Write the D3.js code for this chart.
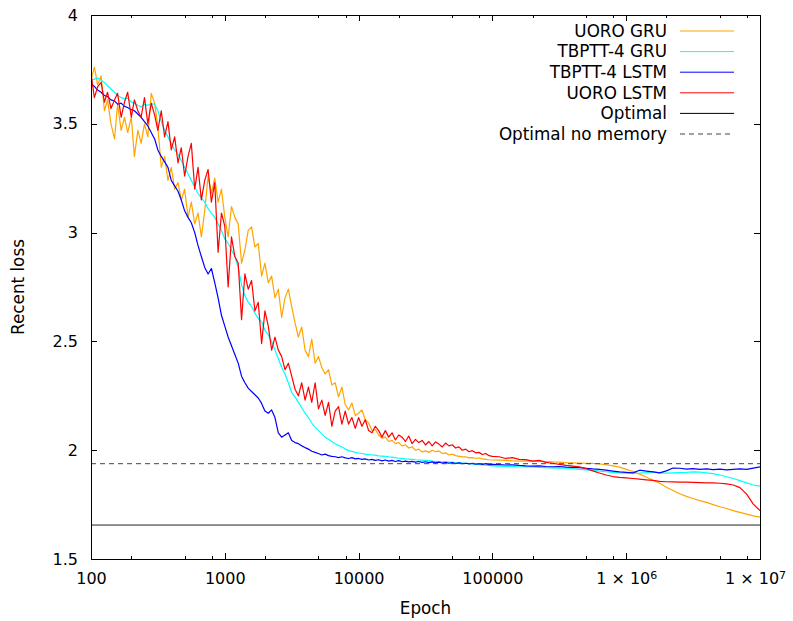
<!DOCTYPE html>
<html>
<head>
<meta charset="utf-8">
<script src="https://cdn.jsdelivr.net/npm/d3@7"></script>
<style>
  body { margin: 0; background: #fff; }
  svg { display: block; font-family: "DejaVu Sans", sans-serif; }
</style>
</head>
<body>
<div id="chart"></div>
<script>
// epochs on a log grid: 40 per decade up to 1e5, 20 per decade after
const epochs = [
  100, 106, 112, 119, 126, 133, 141, 150, 158, 168, 178, 188, 200, 211, 224, 237, 251, 266, 282, 299,
  316, 335, 355, 376, 398, 422, 447, 473, 501, 531, 562, 596, 631, 668, 708, 750, 794, 841, 891, 944,
  1000, 1059, 1122, 1189, 1259, 1334, 1413, 1496, 1585, 1679, 1778, 1884, 1995, 2113, 2239, 2371, 2512, 2661, 2818, 2985,
  3162, 3350, 3548, 3758, 3981, 4217, 4467, 4732, 5012, 5309, 5623, 5957, 6310, 6683, 7079, 7499, 7943, 8414, 8913, 9441,
  10000, 10593, 11220, 11885, 12589, 13335, 14125, 14962, 15849, 16788, 17783, 18836, 19953, 21135, 22387, 23714, 25119, 26607, 28184, 29854,
  31623, 33497, 35481, 37584, 39811, 42170, 44668, 47315, 50119, 53088, 56234, 59566, 63096, 66834, 70795, 74989, 79433, 84140, 89125, 94406,
  100000, 112202, 125893, 141254, 158489, 177828, 199526, 223872, 251189, 281838,
  316228, 354813, 398107, 446684, 501187, 562341, 630957, 707946, 794328, 891251,
  1000000, 1122018, 1258925, 1412538, 1584893, 1778279, 1995262, 2238721, 2511886, 2818383,
  3162278, 3548134, 3981072, 4466836, 5011872, 5623413, 6309573, 7079458, 7943282, 8912509, 10000000
];

const uoroGru = [
  3.70, 3.76, 3.68, 3.72, 3.56, 3.61, 3.50, 3.43, 3.59, 3.47, 3.53, 3.46, 3.53, 3.35, 3.47, 3.41, 3.50, 3.44, 3.64, 3.595,
  3.485, 3.30, 3.35, 3.24, 3.30, 3.20, 3.23, 3.15, 3.20, 3.07, 3.14, 3.04, 3.09, 2.98, 3.10, 3.26, 3.18, 3.25, 3.14, 3.20,
  3.07, 2.98, 3.12, 3.07, 3.04, 2.86, 2.92, 3.01, 3.026, 2.934, 2.95, 2.80, 2.86, 2.77, 2.80, 2.70, 2.74, 2.61, 2.70, 2.74,
  2.66, 2.585, 2.52, 2.566, 2.46, 2.43, 2.51, 2.40, 2.43, 2.38, 2.35, 2.37, 2.30, 2.31, 2.245, 2.29, 2.21, 2.185, 2.217, 2.16,
  2.17, 2.185, 2.14, 2.125, 2.09, 2.095, 2.07, 2.055, 2.06, 2.04, 2.045, 2.03, 2.035, 2.02, 2.025, 2.01, 2.015, 2.0, 2.005, 1.992,
  1.997, 1.99, 2.0, 1.993, 1.997, 1.985, 1.988, 1.978, 1.982, 1.975, 1.972, 1.969, 1.97, 1.965, 1.966, 1.963, 1.964, 1.96, 1.958, 1.956,
  1.955, 1.954, 1.953, 1.951, 1.95, 1.951, 1.95, 1.949, 1.948, 1.946,
  1.945, 1.943, 1.942, 1.941, 1.94, 1.939, 1.937, 1.933, 1.928, 1.922,
  1.912, 1.902, 1.89, 1.877, 1.862, 1.848, 1.83, 1.815, 1.80, 1.788,
  1.778, 1.768, 1.76, 1.75, 1.74, 1.732, 1.722, 1.714, 1.706, 1.698, 1.692
];

const tbpttGru = [
  3.70, 3.705, 3.71, 3.70, 3.69, 3.675, 3.66, 3.645, 3.63, 3.62, 3.615, 3.617, 3.60, 3.595, 3.585, 3.577, 3.59, 3.585, 3.592, 3.59,
  3.56, 3.51, 3.47, 3.44, 3.41, 3.38, 3.36, 3.33, 3.30, 3.27, 3.24, 3.21, 3.18, 3.16, 3.14, 3.11, 3.09, 3.07, 3.04, 3.01,
  2.97, 2.95, 2.92, 2.89, 2.84, 2.76, 2.71, 2.68, 2.66, 2.63, 2.605, 2.59, 2.55, 2.53, 2.50, 2.46, 2.42, 2.38, 2.35, 2.31,
  2.265, 2.245, 2.22, 2.195, 2.17, 2.15, 2.125, 2.105, 2.09, 2.075, 2.06, 2.05, 2.04, 2.03, 2.022, 2.015, 2.005, 1.998, 1.995, 1.99,
  1.987, 1.985, 1.982, 1.98, 1.978, 1.977, 1.974, 1.973, 1.972, 1.969, 1.968, 1.966, 1.963, 1.962, 1.96, 1.959, 1.958, 1.956, 1.955, 1.954,
  1.953, 1.952, 1.95, 1.949, 1.948, 1.947, 1.946, 1.945, 1.944, 1.942, 1.942, 1.941, 1.94, 1.938, 1.937, 1.935, 1.934, 1.932, 1.931, 1.93,
  1.928, 1.927, 1.926, 1.925, 1.924, 1.923, 1.923, 1.921, 1.92, 1.919,
  1.918, 1.917, 1.915, 1.912, 1.91, 1.907, 1.904, 1.901, 1.898, 1.896,
  1.895, 1.894, 1.895, 1.897, 1.90, 1.896, 1.895, 1.896, 1.897, 1.898,
  1.90, 1.899, 1.896, 1.892, 1.886, 1.878, 1.87, 1.86, 1.85, 1.84, 1.835
];

const tbpttLstm = [
  3.68, 3.672, 3.655, 3.645, 3.63, 3.625, 3.61, 3.605, 3.59, 3.595, 3.58, 3.575, 3.565, 3.56, 3.545, 3.53, 3.51, 3.49, 3.46, 3.43,
  3.38, 3.35, 3.325, 3.30, 3.24, 3.215, 3.19, 3.15, 3.10, 3.07, 3.045, 3.00, 2.94, 2.89, 2.84, 2.81, 2.835, 2.77, 2.70, 2.62,
  2.57, 2.52, 2.48, 2.44, 2.40, 2.34, 2.31, 2.285, 2.27, 2.255, 2.24, 2.215, 2.18, 2.17, 2.185, 2.15, 2.08, 2.06, 2.07, 2.08,
  2.045, 2.035, 2.03, 2.02, 2.012, 2.005, 1.995, 1.99, 1.985, 1.978, 1.982, 1.975, 1.972, 1.97, 1.966, 1.97, 1.965, 1.962, 1.966, 1.96,
  1.962, 1.958, 1.96, 1.955, 1.958, 1.953, 1.956, 1.951, 1.955, 1.95, 1.953, 1.948, 1.952, 1.947, 1.95, 1.946, 1.949, 1.945, 1.948, 1.944,
  1.947, 1.943, 1.946, 1.942, 1.945, 1.941, 1.944, 1.94, 1.943, 1.939, 1.942, 1.938, 1.94, 1.937, 1.94, 1.936, 1.938, 1.935, 1.938, 1.934,
  1.935, 1.934, 1.932, 1.933, 1.93, 1.928, 1.927, 1.928, 1.925, 1.924,
  1.925, 1.922, 1.921, 1.92, 1.917, 1.914, 1.912, 1.908, 1.904, 1.90,
  1.898, 1.896, 1.908, 1.904, 1.90, 1.896, 1.905, 1.918, 1.917, 1.913,
  1.915, 1.912, 1.914, 1.911, 1.913, 1.91, 1.912, 1.914, 1.912, 1.918, 1.923
];

const uoroLstm = [
  3.73, 3.62, 3.67, 3.69, 3.60, 3.645, 3.57, 3.61, 3.64, 3.53, 3.60, 3.645, 3.53, 3.61, 3.56, 3.53, 3.62, 3.50, 3.595, 3.54,
  3.47, 3.56, 3.44, 3.51, 3.38, 3.44, 3.32, 3.39, 3.26, 3.35, 3.41, 3.20, 3.30, 3.15, 3.24, 3.29, 3.14, 3.23, 2.91, 3.09,
  3.03, 2.75, 2.98, 2.89, 2.86, 2.60, 2.81, 2.74, 2.78, 2.64, 2.68, 2.49, 2.64, 2.57, 2.46, 2.52, 2.46, 2.43, 2.37, 2.40,
  2.34, 2.28, 2.25, 2.31, 2.23, 2.29, 2.22, 2.31, 2.19, 2.23, 2.16, 2.22, 2.11, 2.18, 2.20, 2.12, 2.18, 2.12, 2.15, 2.10,
  2.15, 2.11, 2.14, 2.09, 2.08, 2.11, 2.09, 2.06, 2.09, 2.06, 2.08, 2.047, 2.07, 2.06, 2.04, 2.065, 2.03, 2.05, 2.035, 2.045,
  2.024, 2.04, 2.02, 2.038, 2.028, 2.015, 2.033, 2.02, 2.025, 2.01, 2.015, 2.0, 2.005, 1.993, 1.998, 1.988, 1.99, 1.98, 1.985, 1.975,
  1.972, 1.97, 1.962, 1.966, 1.958, 1.957, 1.95, 1.953, 1.944, 1.94,
  1.935, 1.93, 1.927, 1.923, 1.915, 1.905, 1.895, 1.886, 1.879, 1.875,
  1.873, 1.87, 1.867, 1.864, 1.861, 1.857, 1.855, 1.854, 1.853, 1.853,
  1.852, 1.851, 1.85, 1.85, 1.848, 1.845, 1.84, 1.828, 1.798, 1.752, 1.722
];

const seriesNames = ["UORO GRU", "TBPTT-4 GRU", "TBPTT-4 LSTM", "UORO LSTM"];
const seriesValues = [uoroGru, tbpttGru, tbpttLstm, uoroLstm];
const seriesColors = ["#ffa500", "#00ffff", "#0000ff", "#ff0000"];

const referenceNames = ["Optimal", "Optimal no memory"];
const referenceLoss = [1.656, 1.938];

const xMajorTicks = [100, 1000, 10000, 100000, 1000000, 10000000];
const xMinorTicks = [200, 500, 800, 2000, 5000, 8000, 20000, 50000, 80000,
  200000, 500000, 800000, 2000000, 5000000, 8000000];
const yTicks = [1.5, 2, 2.5, 3, 3.5, 4];

const width = 793, height = 621;
const plot = { left: 91, right: 760, top: 15, bottom: 559 };
const tickFont = 16;
const textFont = 16.8;

const svg = d3.select("#chart").append("svg")
  .attr("width", width)
  .attr("height", height);

const x = d3.scaleLog().domain([100, 1e7]).range([plot.left, plot.right]);
const y = d3.scaleLinear().domain([1.5, 4]).range([plot.bottom, plot.top]);

svg.append("defs").append("clipPath").attr("id", "plot-clip")
  .append("rect")
  .attr("x", plot.left).attr("y", plot.top)
  .attr("width", plot.right - plot.left).attr("height", plot.bottom - plot.top);

// curves
const line = d3.line()
  .x((d, i) => x(epochs[i]))
  .y(d => y(d));

const curves = svg.append("g").attr("clip-path", "url(#plot-clip)");
seriesValues.forEach((vals, k) => {
  curves.append("path")
    .datum(vals)
    .attr("fill", "none")
    .attr("stroke", seriesColors[k])
    .attr("stroke-width", 1.2)
    .attr("stroke-linejoin", "round")
    .attr("d", line);
});

// optimal reference levels
referenceLoss.forEach((v, k) => {
  curves.append("line")
    .attr("x1", plot.left).attr("x2", plot.right)
    .attr("y1", y(v)).attr("y2", y(v))
    .attr("stroke", k === 0 ? "#222" : "#444")
    .attr("stroke-width", 1)
    .attr("stroke-dasharray", k === 0 ? null : "5,4");
});

// axes (ticks point inward, mirrored on all sides)
function styleAxis(g) {
  g.select(".domain").remove();
  g.attr("font-family", "DejaVu Sans, sans-serif").attr("font-size", tickFont);
  g.selectAll(".tick line").attr("stroke", "#000").attr("shape-rendering", "crispEdges");
  g.selectAll(".tick text").attr("fill", "#000");
}

const fmtX = d => d >= 1e6 ? "" : String(d);

const xBottom = svg.append("g")
  .attr("transform", `translate(0,${plot.bottom})`)
  .call(d3.axisBottom(x).tickValues(xMajorTicks).tickSizeInner(-6).tickSizeOuter(0)
    .tickPadding(14).tickFormat(fmtX))
  .call(styleAxis);

xBottom.selectAll(".tick text").each(function(d) {
  if (d >= 1e6) {
    const t = d3.select(this);
    t.append("tspan").text("1 × 10");
    t.append("tspan").attr("dy", "-0.45em").attr("font-size", 11).text(Math.round(Math.log10(d)));
  }
});
// the last label sits slightly left so it stays inside the page
xBottom.selectAll(".tick text").filter(d => d === 1e7).attr("dx", -5);

svg.append("g")
  .attr("transform", `translate(0,${plot.bottom})`)
  .call(d3.axisBottom(x).tickValues(xMinorTicks).tickSizeInner(-3).tickSizeOuter(0).tickFormat(""))
  .call(styleAxis);

svg.append("g")
  .attr("transform", `translate(0,${plot.top})`)
  .call(d3.axisTop(x).tickValues(xMajorTicks).tickSizeInner(-6).tickSizeOuter(0).tickFormat(""))
  .call(styleAxis);

svg.append("g")
  .attr("transform", `translate(0,${plot.top})`)
  .call(d3.axisTop(x).tickValues(xMinorTicks).tickSizeInner(-3).tickSizeOuter(0).tickFormat(""))
  .call(styleAxis);

svg.append("g")
  .attr("transform", `translate(${plot.left},0)`)
  .call(d3.axisLeft(y).tickValues(yTicks).tickSizeInner(-6).tickSizeOuter(0)
    .tickPadding(13).tickFormat(d => String(d)))
  .call(styleAxis);

svg.append("g")
  .attr("transform", `translate(${plot.right},0)`)
  .call(d3.axisRight(y).tickValues(yTicks).tickSizeInner(-6).tickSizeOuter(0).tickFormat(""))
  .call(styleAxis);

// frame
svg.append("rect")
  .attr("x", plot.left).attr("y", plot.top)
  .attr("width", plot.right - plot.left).attr("height", plot.bottom - plot.top)
  .attr("fill", "none")
  .attr("stroke", "#000")
  .attr("stroke-width", 1)
  .attr("shape-rendering", "crispEdges");

// axis titles
svg.append("text")
  .attr("x", (plot.left + plot.right) / 2)
  .attr("y", 614)
  .attr("text-anchor", "middle")
  .attr("font-size", textFont)
  .text("Epoch");

svg.append("text")
  .attr("transform", `translate(24,${(plot.top + plot.bottom) / 2}) rotate(-90)`)
  .attr("text-anchor", "middle")
  .attr("font-size", textFont)
  .text("Recent loss");

// legend
const legendNames = seriesNames.concat(referenceNames);
const legendColors = seriesColors.concat(["#000", "#444"]);
const legend = svg.append("g");
legendNames.forEach((name, k) => {
  const ly = 31 + k * 20.6;
  legend.append("text")
    .attr("x", 667).attr("y", ly).attr("dy", "0.35em")
    .attr("text-anchor", "end")
    .attr("font-size", textFont)
    .text(name);
  legend.append("line")
    .attr("x1", 680).attr("x2", 734)
    .attr("y1", ly).attr("y2", ly)
    .attr("stroke", legendColors[k])
    .attr("stroke-width", 1)
    .attr("stroke-dasharray", k === legendNames.length - 1 ? "5,4" : null);
});
</script>
</body>
</html>
